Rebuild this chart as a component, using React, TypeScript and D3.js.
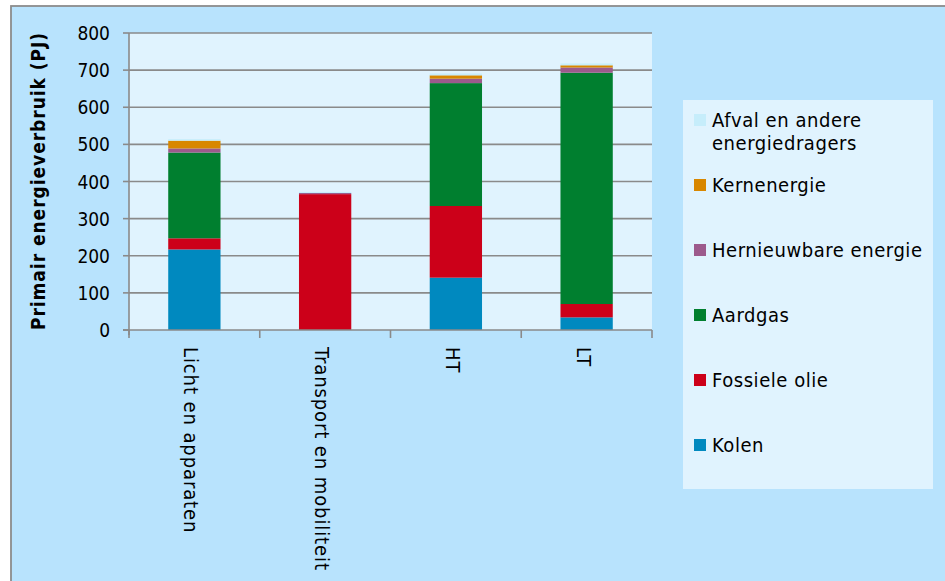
import React from "react";
import * as d3 from "d3";

const categories = ["Licht en apparaten", "Transport en mobiliteit", "HT", "LT"];
const kolen = [217, 0, 141, 34];
const fossieleOlie = [30, 366, 193, 36];
const aardgas = [231, 0, 331, 623];
const hernieuwbaar = [11, 3, 12, 14];
const kernenergie = [21, 0, 9, 6];
const afval = [4, 3, 5, 5];
const yTicks = [0, 100, 200, 300, 400, 500, 600, 700, 800];

const seriesNames = ["Kolen", "Fossiele olie", "Aardgas", "Hernieuwbare energie", "Kernenergie", "Afval en andere energiedragers"];
const seriesValues = [kolen, fossieleOlie, aardgas, hernieuwbaar, kernenergie, afval];
const seriesColors = ["#0089BF", "#CC0019", "#007F2F", "#9C5A8C", "#D88700", "#C6EDFB"];

const FONT = "'DejaVu Sans Condensed', 'DejaVu Sans', sans-serif";

export default function App() {
  const W = 945, H = 581;
  const left = 129, right = 652, top = 33, bottom = 330;
  const x = d3.scaleBand<string>().domain(categories).range([left, right]).paddingInner(0.6).paddingOuter(0.3);
  const y = d3.scaleLinear().domain([0, 800]).range([bottom, top]);

  const table = categories.map((c, i) => {
    const row: any = { cat: c };
    seriesNames.forEach((s, k) => (row[s] = seriesValues[k][i]));
    return row;
  });
  const stacked = d3.stack<any>().keys(seriesNames)(table);

  const step = x.step();
  const boundaries = d3.range(categories.length + 1).map((i) => left + i * step);

  const legendRows = [
    { name: "Afval en andere", name2: "energiedragers", color: seriesColors[5] },
    { name: "Kernenergie", color: seriesColors[4] },
    { name: "Hernieuwbare energie", color: seriesColors[3] },
    { name: "Aardgas", color: seriesColors[2] },
    { name: "Fossiele olie", color: seriesColors[1] },
    { name: "Kolen", color: seriesColors[0] },
  ];

  return (
    <svg width={W} height={H} style={{ position: "absolute", left: 0, top: 0 }} fontFamily={FONT}>
      <rect x={0} y={0} width={W} height={H} fill="#ffffff" />
      <rect x={11} y={6} width={W + 20} height={H + 20} fill="#B8E3FD" stroke="#8C8C8C" strokeWidth={1.8} />
      <rect x={left} y={top} width={right - left} height={bottom - top} fill="#E0F3FE" />
      {yTicks.filter((t) => t > 0).map((t) => (
        <line key={t} x1={left} x2={right} y1={y(t)} y2={y(t)} stroke="#8A8A8A" strokeWidth={1.6} />
      ))}
      {stacked.map((layer, k) => (
        <g key={seriesNames[k]} fill={seriesColors[k]}>
          {layer.map((d, i) =>
            d[1] - d[0] > 0 ? (
              <rect key={i} x={x(categories[i])} width={x.bandwidth()} y={y(d[1])} height={y(d[0]) - y(d[1])} />
            ) : null
          )}
        </g>
      ))}
      {/* axes */}
      <line x1={left} x2={left} y1={top} y2={bottom + 5} stroke="#8A8A8A" strokeWidth={1.6} />
      <line x1={left - 6} x2={right} y1={bottom} y2={bottom} stroke="#8A8A8A" strokeWidth={1.6} />
      {yTicks.map((t) => (
        <g key={t}>
          <line x1={left - 6} x2={left} y1={y(t)} y2={y(t)} stroke="#8A8A8A" strokeWidth={1.6} />
          <text x={110} y={y(t)} textAnchor="end" dominantBaseline="central" fontSize={19} fill="#000">
            {t}
          </text>
        </g>
      ))}
      {boundaries.map((b, i) => (
        <line key={i} x1={b} x2={b} y1={bottom} y2={bottom + 8} stroke="#8A8A8A" strokeWidth={1.6} />
      ))}
      {categories.map((c) => (
        <text
          key={c}
          transform={`translate(${(x(c) as number) + x.bandwidth() / 2 - 3},347) rotate(90)`}
          dominantBaseline="central"
          fontSize={20}
          letterSpacing={0.9}
          fill="#000"
        >
          {c}
        </text>
      ))}
      <text
        transform={`translate(38,181) rotate(-90)`}
        textAnchor="middle"
        dominantBaseline="central"
        fontSize={19}
        fontWeight="bold"
        letterSpacing={0.95}
        fill="#000"
      >
        Primair energieverbruik (PJ)
      </text>
      {/* legend */}
      <rect x={683} y={100} width={250} height={389} fill="#E0F3FE" />
      {legendRows.map((r, i) => {
        const cy = 120 + i * 65;
        return (
          <g key={r.name}>
            <rect x={694} y={cy - 6} width={12} height={12} fill={r.color} />
            <text x={712} y={cy} dominantBaseline="central" fontSize={20} letterSpacing={0.55} fill="#000">
              {r.name}
            </text>
            {r.name2 ? (
              <text x={712} y={cy + 23} dominantBaseline="central" fontSize={20} letterSpacing={0.55} fill="#000">
                {r.name2}
              </text>
            ) : null}
          </g>
        );
      })}
    </svg>
  );
}
